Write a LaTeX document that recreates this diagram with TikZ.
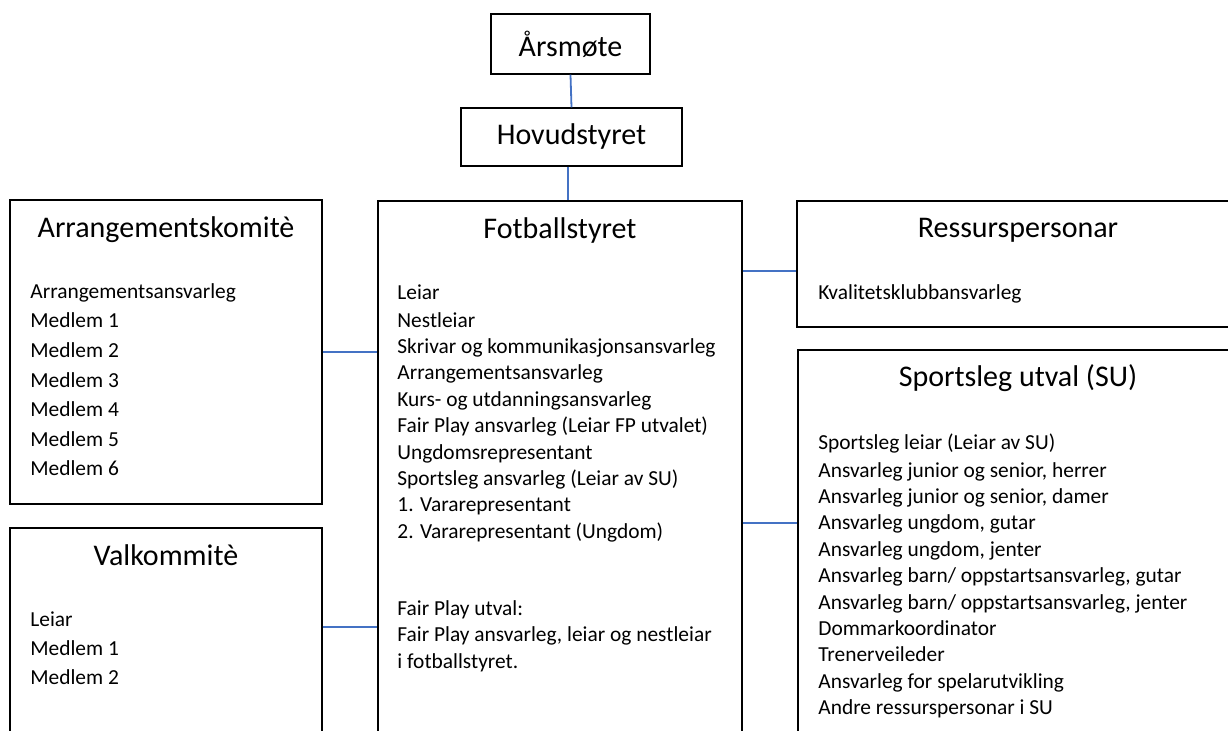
\documentclass[tikz,border=0pt]{standalone}
\usepackage{fontspec}
\setmainfont{Carlito}
\usetikzlibrary{positioning}

\definecolor{linkblue}{HTML}{4472C4}

\tikzset{
    box/.style={draw, line width=0.7pt, inner sep=0pt},
    head/.style={font=\fontsize{15}{18}\selectfont, inner sep=0pt},
    list/.style={align=left, anchor=north west, inner sep=0pt},
    link/.style={draw=linkblue, line width=0.9pt}
}

\begin{document}
\begin{tikzpicture}[x=0.5pt, y=-0.5pt]
    \useasboundingbox (0,0) rectangle (1228,731);
    \clip (0,0) rectangle (1228,731);
    % boxes
    \node[box, minimum width=79.5pt, minimum height=30pt] (aars) at (570.5,44) {};
    \node[box, minimum width=110.5pt, minimum height=29pt] (hov) at (571.5,137) {};
    \node[box, minimum width=182pt, minimum height=279.5pt] (fot) at (560,480.5) {};
    \node[box, minimum width=156pt, minimum height=152pt] (arr) at (166,352) {};
    \node[box, minimum width=156pt, minimum height=116pt] (val) at (166,644) {};
    \node[box, minimum width=221pt, minimum height=63pt] (res) at (1018,264) {};
    \node[box, minimum width=220pt, minimum height=205pt] (su) at (1018,555) {};
    % titles
    \node[head] (aarstitle) at (aars) {Årsmøte};
    \node[head] (hovtitle) at (hov) {Hovudstyret};
    \node[head] (fottitle) at ([yshift=-15pt]fot.north) {Fotballstyret};
    \node[head] (arrtitle) at ([yshift=-15pt]arr.north) {Arrangementskomitè};
    \node[head] (valtitle) at ([yshift=-14pt]val.north) {Valkommitè};
    \node[head] (restitle) at ([yshift=-15pt]res.north) {Ressurspersonar};
    \node[head] (sutitle) at ([yshift=-14.5pt]su.north) {Sportsleg utval (SU)};
    % lists
    \node[list, font=\fontsize{10.7}{14.8}\selectfont] (arrlist) at (30,283) {Arrangementsansvarleg\\Medlem 1\\Medlem 2\\Medlem 3\\Medlem 4\\Medlem 5\\Medlem 6};
    \node[list, font=\fontsize{10.7}{14.5}\selectfont] (vallist) at (30,611) {Leiar\\Medlem 1\\Medlem 2};
    \node[list, font=\fontsize{10.7}{13.2}\selectfont] (fotlist) at (397,284) {Leiar\\[0.8pt]Nestleiar\\Skrivar og kommunikasjonsansvarleg\\Arrangementsansvarleg\\Kurs- og utdanningsansvarleg\\Fair Play ansvarleg (Leiar FP utvalet)\\Ungdomsrepresentant\\Sportsleg ansvarleg (Leiar av SU)\\1. Vararepresentant\\2. Vararepresentant (Ungdom)};
    \node[list, font=\fontsize{10.7}{13.2}\selectfont] (fairplay) at (397,600) {Fair Play utval:\\Fair Play ansvarleg, leiar og nestleiar\\i fotballstyret.};
    \node[list, font=\fontsize{10.7}{13.2}\selectfont] (reslist) at (818,284) {Kvalitetsklubbansvarleg};
    \node[list, font=\fontsize{10.7}{13.2}\selectfont] (sulist) at (818,433) {Sportsleg leiar (Leiar av SU)\\[0.8pt]Ansvarleg junior og senior, herrer\\Ansvarleg junior og senior, damer\\Ansvarleg ungdom, gutar\\Ansvarleg ungdom, jenter\\Ansvarleg barn/ oppstartsansvarleg, gutar\\Ansvarleg barn/ oppstartsansvarleg, jenter\\Dommarkoordinator\\Trenerveileder\\Ansvarleg for spelarutvikling\\Andre ressurspersonar i SU};
    % connectors
    \draw[link] (aars.south) -- (hov.north);
    \draw[link] ([xshift=-1.75pt]hov.south) -- ([xshift=-1.75pt]hov.south |- fot.north);
    \draw[link] (arr.east) -- (fot.west |- arr.east);
    \draw[link] (val.east |- 0,627) -- (fot.west |- 0,627);
    \draw[link] (fot.east |- 0,271) -- (res.west |- 0,271);
    \draw[link] (fot.east |- 0,523) -- (su.west |- 0,523);
\end{tikzpicture}
\end{document}
